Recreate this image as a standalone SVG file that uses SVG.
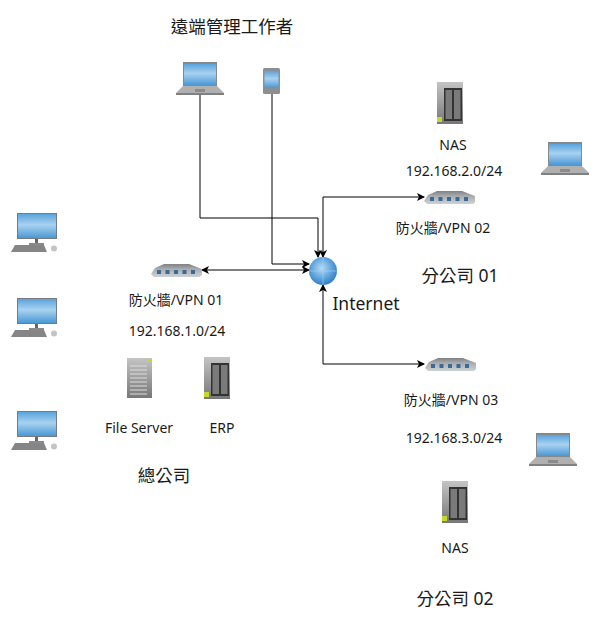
<svg xmlns="http://www.w3.org/2000/svg" width="600" height="621" viewBox="0 0 600 621">
<style>
text{font-family:"Noto Sans","Noto Sans CJK TC",sans-serif;fill:#1a1a1a;text-anchor:middle}
.s{font-size:14px}.l{font-size:17.500px}
.c{fill:none;stroke:#000;stroke-width:1}
</style>
<defs>
<linearGradient id="scr" x1="0" y1="0" x2="0" y2="1"><stop offset="0" stop-color="#5aa3dc"/><stop offset=".45" stop-color="#a8d2f0"/><stop offset="1" stop-color="#4a98d6"/></linearGradient>
<linearGradient id="gm" x1="0" y1="0" x2="0" y2="1"><stop offset="0" stop-color="#c4c4c4"/><stop offset="1" stop-color="#777"/></linearGradient>
<linearGradient id="sw" x1="0" y1="0" x2="0" y2="1"><stop offset="0" stop-color="#7f8285"/><stop offset=".4" stop-color="#a9adb0"/><stop offset="1" stop-color="#cdd2d6"/></linearGradient>
<radialGradient id="gl" cx=".45" cy=".4" r=".65"><stop offset="0" stop-color="#b5daf4"/><stop offset=".6" stop-color="#5aa0dc"/><stop offset="1" stop-color="#2a76bd"/></radialGradient>
<marker id="a" viewBox="0 0 8 8" refX="7" refY="4" markerWidth="8" markerHeight="8" orient="auto-start-reverse" markerUnits="userSpaceOnUse"><path d="M0 0L8 4L0 8L2 4Z" fill="#000"/></marker>
<g id="laptop">
<rect x="7" y="0" width="34" height="24" fill="#85898c"/>
<rect x="8" y="2" width="32" height="21" fill="url(#scr)"/>
<path d="M7 24H41L48 31H0Z" fill="#b0b0b0"/>
<rect x="0" y="31" width="48" height="2" fill="#808080"/>
<rect x="19" y="27" width="10" height="3" fill="#8a8a8a"/>
</g>
<g id="desktop">
<rect x="6" y="0" width="40" height="26" fill="#757b80"/>
<rect x="7" y="1" width="38" height="24" fill="url(#scr)"/>
<rect x="24" y="26" width="3" height="5" fill="#666"/>
<rect x="18" y="30" width="15" height="2" fill="#8a8a8a"/>
<path d="M4 32H33L36 39H0Z" fill="#858585"/>
<ellipse cx="43" cy="35.500" rx="3" ry="3" fill="#c4c4c4"/>
</g>
<g id="switch">
<path d="M4 4L13 0H38L51 5V11L49 13H3L0 10Z" fill="url(#sw)"/>
<rect x="6" y="6" width="4" height="4" fill="#3b6a94"/>
<rect x="14.500" y="6" width="4" height="4" fill="#3b6a94"/>
<rect x="23" y="6" width="4" height="4" fill="#3b6a94"/>
<rect x="31.500" y="6" width="4" height="4" fill="#3b6a94"/>
<rect x="40" y="6" width="4" height="4" fill="#3b6a94"/>
</g>
<g id="nas">
<rect width="26" height="42" fill="url(#gm)"/>
<rect x="7" y="6" width="18" height="33" fill="#333"/>
<rect x="8.500" y="8" width="6.500" height="29" fill="#7a7a7a"/>
<rect x="17" y="8" width="6.500" height="29" fill="#7a7a7a"/>
<rect x="0" y="35" width="5" height="5" fill="#c8d82a"/>
</g>
</defs>
<g id="connectors">
<path class="c" d="M200 95V218H318V257" marker-end="url(#a)"/>
<path class="c" d="M272 94V264H309" marker-end="url(#a)"/>
<path class="c" d="M202 270H309" marker-start="url(#a)" marker-end="url(#a)"/>
<path class="c" d="M424 197H323V257" marker-start="url(#a)" marker-end="url(#a)"/>
<path class="c" d="M424 364H323V285" marker-start="url(#a)" marker-end="url(#a)"/>
</g>
<g id="remote-title"><text class="l" x="232" y="33">遠端管理工作者</text></g>
<g id="remote-laptop"><use href="#laptop" x="176" y="62"/></g>
<g id="remote-tablet">
<rect x="263" y="68" width="17" height="26" rx="1.500" fill="#8b8f93"/>
<rect x="264.500" y="71" width="14" height="17" fill="url(#scr)"/>
</g>
<g id="internet">
<circle cx="323" cy="271" r="14" fill="url(#gl)"/>
<path d="M309 271H337M323 257V285" stroke="#a9d4f2" stroke-width=".6" fill="none"/>
<text class="l" x="366" y="310">Internet</text>
</g>
<g id="pc1"><use href="#desktop" x="11" y="213"/></g>
<g id="pc2"><use href="#desktop" x="11" y="298"/></g>
<g id="pc3"><use href="#desktop" x="11" y="411"/></g>
<g id="fw1"><use href="#switch" x="151" y="264"/><text class="s" x="176" y="305">防火牆/VPN 01</text><text class="s" x="177" y="336">192.168.1.0/24</text></g>
<g id="file-server">
<rect x="127" y="358" width="25" height="40" fill="url(#gm)"/>
<path d="M130 366H147M130 370H147M130 374H147M130 378H147M130 382H147M130 386H147M130 390H147M130 394H147" stroke="#ddd" stroke-width="1"/>
<rect x="147" y="359" width="5" height="3" fill="#c8d82a"/>
<text class="s" x="139" y="433">File Server</text>
</g>
<g id="erp"><use href="#nas" x="204" y="357"/><text class="s" x="222" y="433">ERP</text></g>
<g id="hq-label"><text class="l" x="164" y="482">總公司</text></g>
<g id="nas1"><use href="#nas" x="437" y="82"/><text class="s" x="453" y="150">NAS</text><text class="s" x="454" y="176">192.168.2.0/24</text></g>
<g id="laptop1"><use href="#laptop" x="541" y="142"/></g>
<g id="fw2"><use href="#switch" x="424" y="191"/><text class="s" x="443" y="233">防火牆/VPN 02</text></g>
<g id="branch1-label"><text class="l" x="460" y="282">分公司 01</text></g>
<g id="fw3"><use href="#switch" x="425" y="358"/><text class="s" x="451" y="405">防火牆/VPN 03</text><text class="s" x="454" y="443">192.168.3.0/24</text></g>
<g id="laptop2"><use href="#laptop" x="529" y="433"/></g>
<g id="nas2"><use href="#nas" x="442" y="481"/><text class="s" x="455" y="553">NAS</text></g>
<g id="branch2-label"><text class="l" x="455" y="605">分公司 02</text></g>
</svg>
